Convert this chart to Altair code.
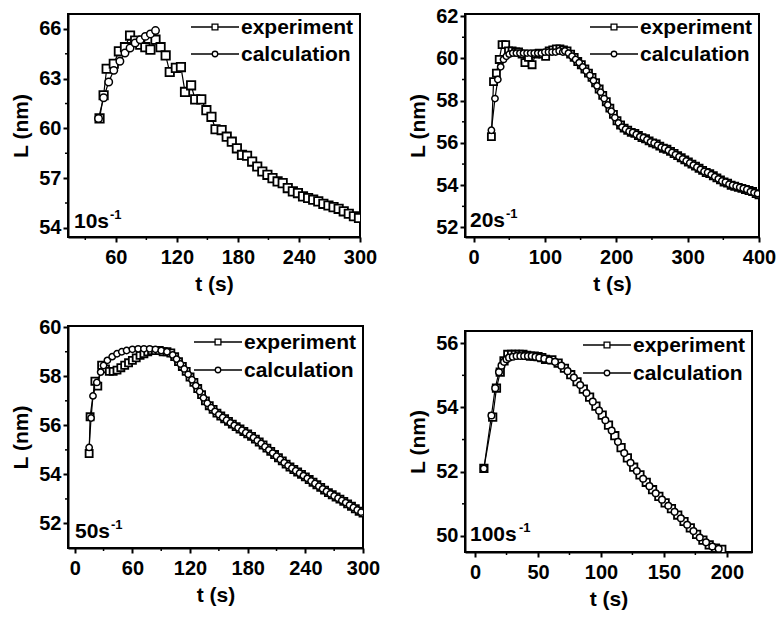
import altair as alt
import pandas as pd

FONT = "Liberation Sans"

# ---------------- data ----------------
# Panel 1: 10 s^-1
exp1_t = [44, 48, 51, 58, 63, 69, 74, 79, 84, 89, 94, 99, 104, 109, 113, 119, 124, 128, 134, 138,
          144, 149, 154, 158, 164, 169, 174, 179, 184, 189, 194, 199, 204, 209, 214, 219, 224, 229,
          234, 239, 244, 249, 254, 259, 264, 269, 274, 279, 284, 289, 294, 299]
exp1_L = [60.6, 62.0, 63.6, 63.9, 64.65, 64.9, 65.6, 65.3, 65.05, 64.9, 64.75, 65.35, 64.9, 64.4, 63.4,
          63.65, 63.7, 62.2, 62.6, 61.75, 61.75, 61.1, 60.7, 59.95, 59.9, 59.5, 59.2, 58.8, 58.4, 58.35,
          58.0, 57.7, 57.4, 57.2, 57.0, 56.8, 56.7, 56.4, 56.2, 56.1, 55.9, 55.8, 55.7, 55.6, 55.45,
          55.35, 55.25, 55.15, 55.0, 54.85, 54.7, 54.6]
calc1_t = [43, 48, 53, 58, 64, 69, 74, 79, 84, 89, 94, 99]
calc1_L = [60.6, 61.85, 62.8, 63.5, 64.05, 64.55, 64.85, 65.15, 65.35, 65.55, 65.7, 65.9]

# Panel 2: 20 s^-1
exp2_t = [25, 28, 32, 36, 40, 45, 49, 54, 59, 63, 68, 72, 77, 82, 87, 92, 97, 101, 106, 111, 116, 121,
          126, 131, 136, 141, 146, 151, 156, 161, 166, 171, 176, 181, 186, 191, 196, 201, 206, 211,
          216, 221, 226, 231, 236, 241, 246, 251, 256, 261, 266, 271, 276, 281, 286, 291, 296, 301,
          306, 311, 316, 321, 326, 331, 336, 341, 346, 351, 356, 361, 366, 371, 376, 381, 386, 391,
          396, 400]
exp2_L = [56.3, 58.9, 59.3, 59.95, 60.65, 60.65, 60.35, 60.35, 60.3, 60.3, 60.2, 59.8, 60.05, 59.7,
          60.2, 60.25, 60.2, 60.1, 60.35, 60.4, 60.45, 60.45,
          60.4, 60.35, 60.2, 60.05, 59.85, 59.7, 59.5, 59.3, 59.1, 58.85, 58.55, 58.25, 57.95, 57.65,
          57.35, 57.05, 56.85, 56.7, 56.6, 56.5, 56.45, 56.35, 56.25, 56.2, 56.1, 56.0, 55.95, 55.85,
          55.75, 55.7, 55.6, 55.5, 55.4, 55.3, 55.2, 55.1, 55.0, 54.9, 54.8, 54.7, 54.6, 54.55, 54.45,
          54.35, 54.25, 54.15, 54.1, 54.0, 53.95, 53.9, 53.85, 53.8, 53.75, 53.7, 53.6, 53.55]
calc2_t = [25, 30, 34, 38, 42, 46, 50, 55, 60, 65, 70, 75, 80, 85, 90, 95, 100, 105, 110, 115, 120, 125,
           128, 133, 138, 143, 148, 153, 158, 163, 168, 173, 178, 183, 188, 193, 198, 203, 208, 213,
           218, 223, 228, 233, 238, 243, 248, 253, 258, 263, 268, 273, 278, 283, 288, 293, 298, 303,
           308, 313, 318, 323, 328, 333, 338, 343, 348, 353, 358, 363, 368, 373, 378, 383, 388, 393,
           398]
calc2_L = [56.6, 58.1, 59.0, 59.6, 59.95, 60.1, 60.2, 60.25, 60.25, 60.25, 60.25, 60.25, 60.25, 60.25,
           60.25, 60.25, 60.3, 60.3, 60.3, 60.3, 60.35, 60.3,
           60.35, 60.25, 60.1, 59.95, 59.8, 59.6, 59.4, 59.2, 58.95, 58.7, 58.4, 58.1, 57.8, 57.5, 57.2,
           56.95, 56.75, 56.65, 56.55, 56.5, 56.4, 56.3, 56.25, 56.15, 56.05, 56.0, 55.9, 55.8, 55.75,
           55.65, 55.55, 55.45, 55.35, 55.25, 55.15, 55.05, 54.95, 54.85, 54.75, 54.65, 54.6, 54.5,
           54.4, 54.3, 54.2, 54.15, 54.05, 54.0, 53.95, 53.9, 53.85, 53.8, 53.7, 53.65, 53.6]

# Panel 3: 50 s^-1
exp3_t = [15, 16, 21, 24, 28, 32, 36, 40, 44, 48, 52, 56, 60, 64, 68, 72, 76, 80, 84, 88, 92, 96,
          100, 104, 108, 112, 116, 120, 124, 128, 132, 136, 140, 144, 148, 152, 156, 160, 164, 168,
          172, 176, 180, 184, 188, 192, 196, 200, 204, 208, 212, 216, 220, 224, 228, 232, 236, 240,
          244, 248, 252, 256, 260, 264, 268, 272, 276, 280, 284, 288, 292, 296, 300]
exp3_L = [54.85, 56.35, 57.8, 57.6, 58.45, 58.3, 58.2, 58.2, 58.25, 58.35, 58.45, 58.55, 58.65, 58.75,
          58.85, 58.92, 59.0, 59.05, 59.05, 59.05, 59.0, 59.0,
          58.95, 58.8, 58.6, 58.4, 58.2, 57.97, 57.75, 57.5, 57.25, 57.0, 56.8, 56.65, 56.5, 56.38,
          56.27, 56.16, 56.05, 55.95, 55.85, 55.75, 55.65, 55.55, 55.44, 55.32, 55.2, 55.07, 54.94,
          54.81, 54.68, 54.55, 54.42, 54.3, 54.2, 54.1, 54.0, 53.9, 53.79, 53.68, 53.58, 53.47, 53.36,
          53.26, 53.17, 53.08, 52.99, 52.9, 52.8, 52.7, 52.6, 52.5, 52.42]
calc3_t = [15, 17, 19, 23, 27, 30, 34, 39, 44, 49, 54, 60, 66, 72, 78, 84, 90, 96,
           102, 106, 110, 114, 118, 122, 126, 130, 134, 138, 142, 146, 150, 154, 158, 162, 166, 170,
           174, 178, 182, 186, 190, 194, 198, 202, 206, 210, 214, 218, 222, 226, 230, 234, 238, 242,
           246, 250, 254, 258, 262, 266, 270, 274, 278, 282, 286, 290, 294, 298]
calc3_L = [55.1, 56.3, 57.2, 57.75, 58.17, 58.44, 58.65, 58.8, 58.92, 59.0, 59.05, 59.1, 59.12, 59.12,
           59.12, 59.1, 59.05, 59.0,
           58.87, 58.7, 58.5, 58.3, 58.08, 57.86, 57.62, 57.38, 57.12, 56.9, 56.72, 56.57, 56.44, 56.32,
           56.21, 56.1, 56.0, 55.9, 55.8, 55.7, 55.6, 55.5, 55.38, 55.26, 55.13, 55.0, 54.87, 54.74,
           54.61, 54.48, 54.36, 54.25, 54.15, 54.05, 53.95, 53.84, 53.73, 53.63, 53.52, 53.41, 53.31,
           53.21, 53.12, 53.03, 52.94, 52.85, 52.75, 52.65, 52.55, 52.46]

# Panel 4: 100 s^-1
exp4_t = [7, 14, 17, 20, 23, 26, 29, 32, 35, 38, 41, 44, 47, 50, 53, 56, 61, 66, 71, 76, 81, 86, 91,
          96, 101, 106, 111, 116, 121, 126, 131, 136, 141, 146, 151, 156, 161, 166, 171, 176, 181,
          186, 191, 196]
exp4_L = [52.1, 53.7, 54.6, 55.1, 55.45, 55.65, 55.65, 55.65, 55.65, 55.65, 55.62, 55.6, 55.6, 55.58,
          55.55, 55.5, 55.48, 55.38, 55.22, 55.02, 54.8, 54.57, 54.32, 54.04, 53.76, 53.45, 53.12,
          52.75, 52.43, 52.14, 51.9, 51.67, 51.44, 51.23, 51.03, 50.85, 50.65, 50.45, 50.25, 50.05,
          49.87, 49.72, 49.62, 49.58]
calc4_t = [7, 13, 16, 19, 21, 23, 25, 27, 30, 33, 36, 39, 42, 45, 48, 51, 55, 59, 63.5, 68.5, 73.5,
           78.5, 83.5, 88.5, 93.5, 98.5, 103.5, 108.5, 113.5, 118.5, 123.5, 128.5, 133.5, 138.5, 143.5,
           148.5, 153.5, 158.5, 163.5, 168.5, 173.5, 178.5, 183.5, 188.5, 193.5]
calc4_L = [52.1, 53.75, 54.6, 55.1, 55.3, 55.42, 55.5, 55.55, 55.58, 55.6, 55.6, 55.6, 55.6, 55.6,
           55.58, 55.55, 55.52, 55.47, 55.42, 55.3, 55.13, 54.93, 54.7, 54.45, 54.18, 53.9, 53.6,
           53.28, 52.93, 52.58, 52.28, 52.02, 51.78, 51.55, 51.33, 51.13, 50.94, 50.75, 50.55, 50.35,
           50.15, 49.95, 49.8, 49.67, 49.6]

series_names = ["experiment", "calculation"]
rate_labels = ["10s", "20s", "50s", "100s"]
x_ticks = [[60, 120, 180, 240, 300], [0, 100, 200, 300, 400], [0, 60, 120, 180, 240, 300], [0, 50, 100, 150, 200]]
y_ticks = [[54, 57, 60, 63, 66], [52, 54, 56, 58, 60, 62], [52, 54, 56, 58, 60], [50, 52, 54, 56]]
x_minor = [[30, 90, 150, 210, 270], [50, 150, 250, 350], [30, 90, 150, 210, 270], [25, 75, 125, 175]]
y_minor = [[55.5, 58.5, 61.5, 64.5], [53, 55, 57, 59, 61], [53, 55, 57, 59], [51, 53, 55]]
x_domains = [[13, 300], [-12, 400], [-7, 300], [-8, 220]]
y_domains = [[53.45, 66.9], [51.55, 62.1], [51.0, 60.05], [49.5, 56.38]]


def panel(et, eL, ct, cL, k, w, h, msize, ann_xy, leg_rows):
    exp = pd.DataFrame({"t": et, "L": eL})
    calc = pd.DataFrame({"t": ct, "L": cL})
    x = alt.X("t:Q", scale=alt.Scale(domain=x_domains[k], nice=False, zero=False),
              axis=alt.Axis(values=x_ticks[k], title="t (s)", labelFlush=False, labelOverlap=False,
                            tickSize=5, labelPadding=5, titlePadding=6))
    y = alt.Y("L:Q", scale=alt.Scale(domain=y_domains[k], nice=False, zero=False),
              axis=alt.Axis(values=y_ticks[k], title="L (nm)", labelFlush=False, labelOverlap=False,
                            tickSize=5, labelPadding=2, titlePadding=5, minExtent=32, maxExtent=32))
    layers = []
    layers.append(alt.Chart(exp).mark_line(color="black", strokeWidth=1.2, clip=True).encode(x=x, y=y))
    layers.append(alt.Chart(calc).mark_line(color="black", strokeWidth=1.2, clip=True).encode(x=x, y=y))
    layers.append(alt.Chart(exp).mark_point(shape="square", fill="white", stroke="black", strokeWidth=1.8,
                                            size=msize, opacity=1, fillOpacity=1, clip=True).encode(x=x, y=y))
    layers.append(alt.Chart(calc).mark_point(shape="circle", fill="white", stroke="black", strokeWidth=1.5,
                                             size=msize * 0.8, opacity=1, fillOpacity=1, clip=True).encode(x=x, y=y))
    # minor ticks
    layers.append(alt.Chart(pd.DataFrame({"t": x_minor[k]})).mark_rule(color="black", strokeWidth=1.5).encode(
        x="t:Q", y=alt.value(h), y2=alt.value(h + 3)))
    layers.append(alt.Chart(pd.DataFrame({"L": y_minor[k]})).mark_rule(color="black", strokeWidth=1.5).encode(
        y="L:Q", x=alt.value(0), x2=alt.value(-3)))
    # legend (line - symbol - line, label)
    xt = w - 119
    one = pd.DataFrame({"a": [0]})
    for name, shape, ry in zip(series_names, ["square", "circle"], leg_rows):
        layers.append(alt.Chart(one).mark_rule(color="black", strokeWidth=1.5).encode(
            x=alt.value(xt - 50), x2=alt.value(xt - 2), y=alt.value(ry)))
        layers.append(alt.Chart(one).mark_point(shape=shape, fill="white", stroke="black", strokeWidth=1.3,
                                                size=34 if shape == "square" else 30, opacity=1,
                                                fillOpacity=1).encode(x=alt.value(xt - 26), y=alt.value(ry)))
        layers.append(alt.Chart(one).mark_text(align="left", baseline="middle", font=FONT, fontWeight="bold",
                                               fontSize=21, color="black", dy=1).encode(
            x=alt.value(xt), y=alt.value(ry), text=alt.value(name)))
    ax, ay, sx = ann_xy
    layers.append(alt.Chart(one).mark_text(
        align="left", baseline="alphabetic", font=FONT, fontWeight="bold", fontSize=21,
        color="black").encode(x=alt.value(ax), y=alt.value(ay), text=alt.value(rate_labels[k])))
    layers.append(alt.Chart(one).mark_text(
        align="left", baseline="alphabetic", font=FONT, fontWeight="bold", fontSize=13,
        color="black").encode(x=alt.value(sx), y=alt.value(ay - 9), text=alt.value("-1")))
    return alt.layer(*layers).properties(width=w, height=h)


p1 = panel(exp1_t, exp1_L, calc1_t, calc1_L, 0, 292, 223, 70, (6, 214, 42), (13, 40))
p2 = panel(exp2_t, exp2_L, calc2_t, calc2_L, 1, 294, 223, 50, (5, 213, 41), (13, 40))
p3 = panel(exp3_t, exp3_L, calc3_t, calc3_L, 2, 295, 222, 50, (7, 212, 43), (16, 44))
p4 = panel(exp4_t, exp4_L, calc4_t, calc4_L, 3, 287, 221, 55, (5, 210, 54), (14, 42))

col1 = alt.vconcat(p1, p3, spacing=21)
col2 = alt.vconcat(p2, p4, spacing=35)

chart = alt.hconcat(col1, col2, spacing=25).properties(
    padding={"left": 9, "top": 5, "right": 5, "bottom": 5}, background="white"
).configure_axis(
    labelFont=FONT, labelFontWeight="bold", labelFontSize=20, labelColor="black",
    titleFont=FONT, titleFontWeight="bold", titleFontSize=21, titleColor="black",
    domainColor="black", domainWidth=2, tickColor="black", tickWidth=2, grid=False,
).configure_view(stroke="black", strokeWidth=2)

chart.save("out.html", embed_options={"renderer": "svg", "actions": False})
